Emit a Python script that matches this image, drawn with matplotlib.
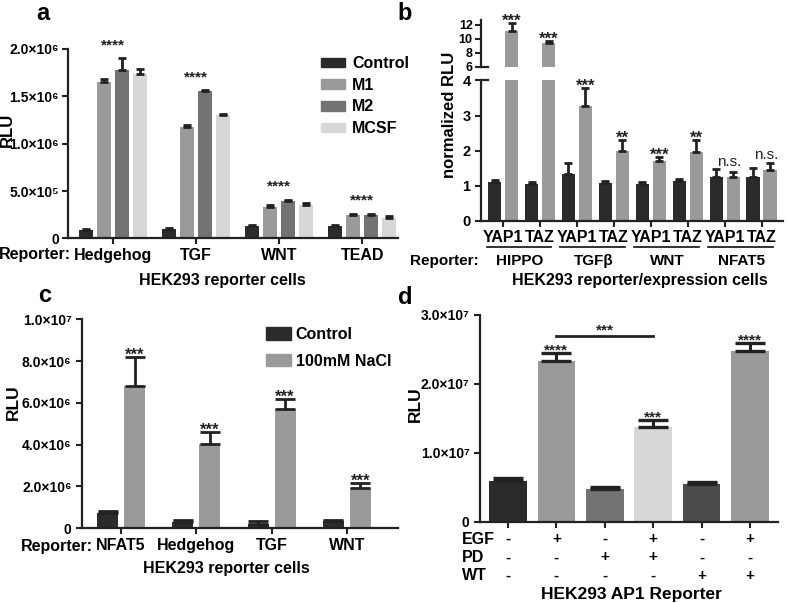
import numpy as np
import matplotlib
matplotlib.use('Agg')
import matplotlib.pyplot as plt
from matplotlib.ticker import FuncFormatter

plt.rcParams['font.family'] = ['Liberation Sans', 'DejaVu Sans']
plt.rcParams['font.weight'] = 'bold'
plt.rcParams['axes.linewidth'] = 1.6

# ---- panel a ----
a_groups = ['Hedgehog', 'TGF', 'WNT', 'TEAD']
a_series = ['Control', 'M1', 'M2', 'MCSF']
a_control = [0.09e6, 0.10e6, 0.137e6, 0.137e6]
a_control_err = [0.008e6, 0.008e6, 0.008e6, 0.01e6]
a_m1 = [1.65e6, 1.18e6, 0.337e6, 0.246e6]
a_m1_err = [0.03e6, 0.02e6, 0.013e6, 0.014e6]
a_m2 = [1.775e6, 1.555e6, 0.40e6, 0.246e6]
a_m2_err = [0.13e6, 0.01e6, 0.01e6, 0.012e6]
a_mcsf = [1.74e6, 1.30e6, 0.35e6, 0.22e6]
a_mcsf_err = [0.05e6, 0.012e6, 0.02e6, 0.015e6]
a_sig = ['****', '****', '****', '****']

# ---- panel b ----
b_reporters = ['HIPPO', 'TGF\u03b2', 'WNT', 'NFAT5']
b_genes = ['YAP1', 'TAZ', 'YAP1', 'TAZ', 'YAP1', 'TAZ', 'YAP1', 'TAZ']
b_control = [1.10, 1.05, 1.33, 1.08, 1.05, 1.12, 1.26, 1.26]
b_control_err = [0.06, 0.04, 0.31, 0.06, 0.05, 0.06, 0.21, 0.24]
b_dox = [11.1, 9.4, 3.28, 1.98, 1.69, 1.95, 1.26, 1.45]
b_dox_err = [1.2, 0.35, 0.51, 0.31, 0.14, 0.36, 0.14, 0.21]
b_sig = ['***', '***', '***', '**', '***', '**', 'n.s.', 'n.s.']

# ---- panel c ----
c_groups = ['NFAT5', 'Hedgehog', 'TGF', 'WNT']
c_control = [0.72e6, 0.32e6, 0.20e6, 0.37e6]
c_control_err = [0.11e6, 0.06e6, 0.15e6, 0.03e6]
c_nacl = [6.81e6, 4.03e6, 5.69e6, 1.95e6]
c_nacl_err = [1.37e6, 0.56e6, 0.51e6, 0.23e6]
c_sig = ['***', '***', '***', '***']

# ---- panel d ----
d_values = [0.59e7, 2.33e7, 0.47e7, 1.38e7, 0.54e7, 2.48e7]
d_err = [0.05e7, 0.12e7, 0.03e7, 0.09e7, 0.04e7, 0.11e7]
d_egf = ['-', '+', '-', '+', '-', '+']
d_pd = ['-', '-', '+', '+', '-', '-']
d_wt = ['-', '-', '-', '-', '+', '+']
d_sig = ['', '****', '', '***', '', '****']

DARK = '#2b2b2b'
MID = '#9a9a9c'
DEEP = '#737373'
LIGHT = '#d7d7d7'
LINE = '#222222'
SUP = str.maketrans('0123456789', '\u2070\u00b9\u00b2\u00b3\u2074\u2075\u2076\u2077\u2078\u2079')

W, H = 787, 603
fig = plt.figure(figsize=(W / 100, H / 100), dpi=100)


def px_axes(left, top, right, bottom):
    return fig.add_axes([left / W, 1 - bottom / H, (right - left) / W, (bottom - top) / H])


def ftext(x, y, s, **kw):
    fig.text(x / W, 1 - y / H, s, **kw)


def sci(v, pos):
    if v == 0:
        return '0'
    e = int(np.floor(np.log10(v) + 1e-9))
    return f'{v / 10 ** e:.1f}\u00d710' + str(e).translate(SUP)


def style(ax):
    for s in ['top', 'right']:
        ax.spines[s].set_visible(False)
    for s in ['left', 'bottom']:
        ax.spines[s].set_color(LINE)
    ax.tick_params(direction='out', length=4, width=1.5, color=LINE, labelsize=10)


def bars(ax, x, vals, errs, width, color, cap):
    ax.bar(x, vals, width, color=color, zorder=2,
           yerr=[np.zeros(len(errs)), errs],
           error_kw=dict(ecolor=LINE, elinewidth=2, capsize=cap, capthick=2, zorder=3))


def stars(ax, x, y, s, off, size=11, weight='bold'):
    ax.annotate(s, (x, y), xytext=(0, off), textcoords='offset points', ha='center',
                va='baseline', fontsize=size, fontweight=weight, color=LINE,
                annotation_clip=False)


# ================= panel a =================
ax = px_axes(68, 49, 398, 238.5)
style(ax)
ax.tick_params(axis='y', pad=2.5)
xa = np.arange(len(a_groups))
step = 0.217
wa = 0.17
a_data = [(a_control, a_control_err, DARK), (a_m1, a_m1_err, MID),
          (a_m2, a_m2_err, DEEP), (a_mcsf, a_mcsf_err, LIGHT)]
for k, (v, e, c) in enumerate(a_data):
    bars(ax, xa + (k - 1.5) * step, v, e, wa, c, 3)
ax.set_xlim(-0.54, 3.43)
ax.set_ylim(0, 2.0e6)
ax.set_yticks([0, 0.5e6, 1.0e6, 1.5e6, 2.0e6])
ax.yaxis.set_major_formatter(FuncFormatter(sci))
ax.set_xticks(xa)
ax.set_xticklabels(a_groups, fontsize=11.5)
ax.tick_params(axis='x', pad=3)
for i in range(len(a_groups)):
    top = max(v[i] + e[i] for v, e, c in a_data)
    stars(ax, xa[i], top, a_sig[i], 6.5, size=11)
ax.legend([plt.Rectangle((0, 0), 1, 1, color=c) for _, _, c in a_data], a_series,
          loc='upper left', bbox_to_anchor=(321 / W, 1 - 56 / H), bbox_transform=fig.transFigure,
          frameon=False, fontsize=11.5, handlelength=1.5, handleheight=0.55,
          handletextpad=0.45, labelspacing=0.42, borderpad=0, borderaxespad=0)
ftext(7, 130, 'RLU', ha='center', va='center', rotation=90, fontsize=12)
ftext(71, 255, 'Reporter:', ha='right', va='center', fontsize=11.5)
ftext(222, 280, 'HEK293 reporter cells', ha='center', va='center', fontsize=11.5)
ftext(43, 13, 'a', ha='center', va='center', fontsize=17)

# ================= panel b =================
xb = np.arange(len(b_genes))
wb = 0.36
ob = 0.23
xlim_b = (-0.6, 7.58)
axl = px_axes(481, 80.5, 783, 220.7)
axu = px_axes(481, 20, 783, 66.7)
for axx in (axl, axu):
    style(axx)
    bars(axx, xb - ob, b_control, b_control_err, wb, DARK, 3)
    bars(axx, xb + ob, b_dox, b_dox_err, wb, MID, 3)
    axx.set_xlim(*xlim_b)
axl.set_ylim(0, 4)
axl.set_yticks([0, 1, 2, 3, 4])
axl.tick_params(axis='y', labelsize=10.5)
axl.set_xticks(xb)
axl.set_xticklabels(b_genes, fontsize=11.5)
axl.tick_params(axis='x', pad=3)
axu.set_ylim(6, 12.7)
axu.set_yticks([6, 8, 10, 12])
axu.tick_params(axis='y', labelsize=9, pad=2)
axu.spines['bottom'].set_visible(False)
axu.set_xticks([])
axl.plot([0, 7 / 302], [1, 1], transform=axl.transAxes, color=LINE, lw=1.6, clip_on=False)
axu.plot([0, 7 / 302], [0, 0], transform=axu.transAxes, color=LINE, lw=1.6, clip_on=False)
for i in range(len(b_genes)):
    top = max(b_control[i] + b_control_err[i], b_dox[i] + b_dox_err[i])
    target = axu if top > 6 else axl
    if b_sig[i] == 'n.s.':
        stars(target, xb[i] + ob * 0.5, top, b_sig[i], 2.5, size=11, weight='normal')
    else:
        stars(target, xb[i] + ob, b_dox[i] + b_dox_err[i], b_sig[i], -2, size=12)
for g in range(len(b_reporters)):
    axl.plot([2 * g - 0.45, 2 * g + 1.3], [-0.19, -0.19], transform=axl.get_xaxis_transform(),
             color=LINE, lw=1.3, clip_on=False)
    axl.text(2 * g + 0.45, -0.29, b_reporters[g], transform=axl.get_xaxis_transform(),
             ha='center', va='center', fontsize=11)
axl.legend([plt.Rectangle((0, 0), 1, 1, color=c) for c in (DARK, MID)], ['Control', 'Dox.'],
           loc='upper left', bbox_to_anchor=(688 / W, 1 - 29 / H), bbox_transform=fig.transFigure,
           frameon=False, fontsize=11.5, handlelength=1.75, handleheight=0.8,
           handletextpad=0.35, labelspacing=0.3, borderpad=0, borderaxespad=0)
ftext(450, 115, 'normalized RLU', ha='center', va='center', rotation=90, fontsize=12)
ftext(479, 261, 'Reporter:', ha='right', va='center', fontsize=11)
ftext(640, 280, 'HEK293 reporter/expression cells', ha='center', va='center', fontsize=11.5)
ftext(405, 13, 'b', ha='center', va='center', fontsize=17)

# ================= panel c =================
ax = px_axes(82, 319.3, 398, 528.3)
style(ax)
xc = np.arange(len(c_groups))
wc = 0.28
oc = 0.18
bars(ax, xc - oc, c_control, c_control_err, wc, DARK, 7)
bars(ax, xc + oc, c_nacl, c_nacl_err, wc, MID, 7)
ax.set_xlim(-0.52, 3.68)
ax.set_ylim(0, 1.0e7)
ax.set_yticks([0, 2e6, 4e6, 6e6, 8e6, 1e7])
ax.yaxis.set_major_formatter(FuncFormatter(sci))
ax.set_xticks(xc)
ax.set_xticklabels(c_groups, fontsize=11.5)
ax.tick_params(axis='x', pad=3)
for i in range(len(c_groups)):
    stars(ax, xc[i] + oc, c_nacl[i] + c_nacl_err[i], c_sig[i], -2, size=12)
ax.legend([plt.Rectangle((0, 0), 1, 1, color=c) for c in (DARK, MID)], ['Control', '100mM NaCl'],
          loc='upper left', bbox_to_anchor=(266 / W, 1 - 327 / H), bbox_transform=fig.transFigure,
          frameon=False, fontsize=11.5, handlelength=1.55, handleheight=0.8,
          handletextpad=0.3, labelspacing=0.72, borderpad=0, borderaxespad=0)
ftext(13, 402, 'RLU', ha='center', va='center', rotation=90, fontsize=12.5)
ftext(93, 547, 'Reporter:', ha='right', va='center', fontsize=11.5)
ftext(226, 569, 'HEK293 reporter cells', ha='center', va='center', fontsize=11.5)
ftext(45, 296, 'c', ha='center', va='center', fontsize=17)

# ================= panel d =================
ax = px_axes(480, 315, 778, 521.7)
style(ax)
xd = np.arange(len(d_values))
d_colors = [DARK, MID, DEEP, LIGHT, '#4b4b4b', MID]
ax.bar(xd, d_values, 0.78, color=d_colors, zorder=2,
       yerr=[np.zeros(len(d_err)), d_err],
       error_kw=dict(ecolor=LINE, elinewidth=2.2, capsize=11, capthick=2.4, zorder=3))
ax.set_xlim(-0.58, 5.58)
ax.set_ylim(0, 3.0e7)
ax.set_yticks([0, 1e7, 2e7, 3e7])
ax.yaxis.set_major_formatter(FuncFormatter(sci))
ax.set_xticks(xd)
ax.set_xticklabels([])
for i in range(len(d_values)):
    if d_sig[i]:
        stars(ax, xd[i], d_values[i] + d_err[i], d_sig[i], -1, size=11)
bracket = max(d_values[1] + d_err[1], d_values[3] + d_err[3]) + 0.25e7
ax.plot([xd[1], xd[3]], [bracket, bracket], color=LINE, lw=2, clip_on=False)
stars(ax, (xd[1] + xd[3]) / 2, bracket, '***', 1, size=11)
for row, (name, signs) in enumerate([('EGF', d_egf), ('PD', d_pd), ('WT', d_wt)]):
    yy = -(539 - 521.7 + row * 18.5) / 206.7
    ax.text(-0.58 - 18 / 48.4, yy, name, transform=ax.get_xaxis_transform(),
            ha='left', va='center', fontsize=11.5)
    for i, s in enumerate(signs):
        ax.text(xd[i], yy, s, transform=ax.get_xaxis_transform(),
                ha='center', va='center', fontsize=11)
ftext(415, 404, 'RLU', ha='center', va='center', rotation=90, fontsize=12.5)
ftext(631, 594, 'HEK293 AP1 Reporter', ha='center', va='center', fontsize=12.5)
ftext(405, 298, 'd', ha='center', va='center', fontsize=17)

fig.savefig('out.png', dpi=100)
